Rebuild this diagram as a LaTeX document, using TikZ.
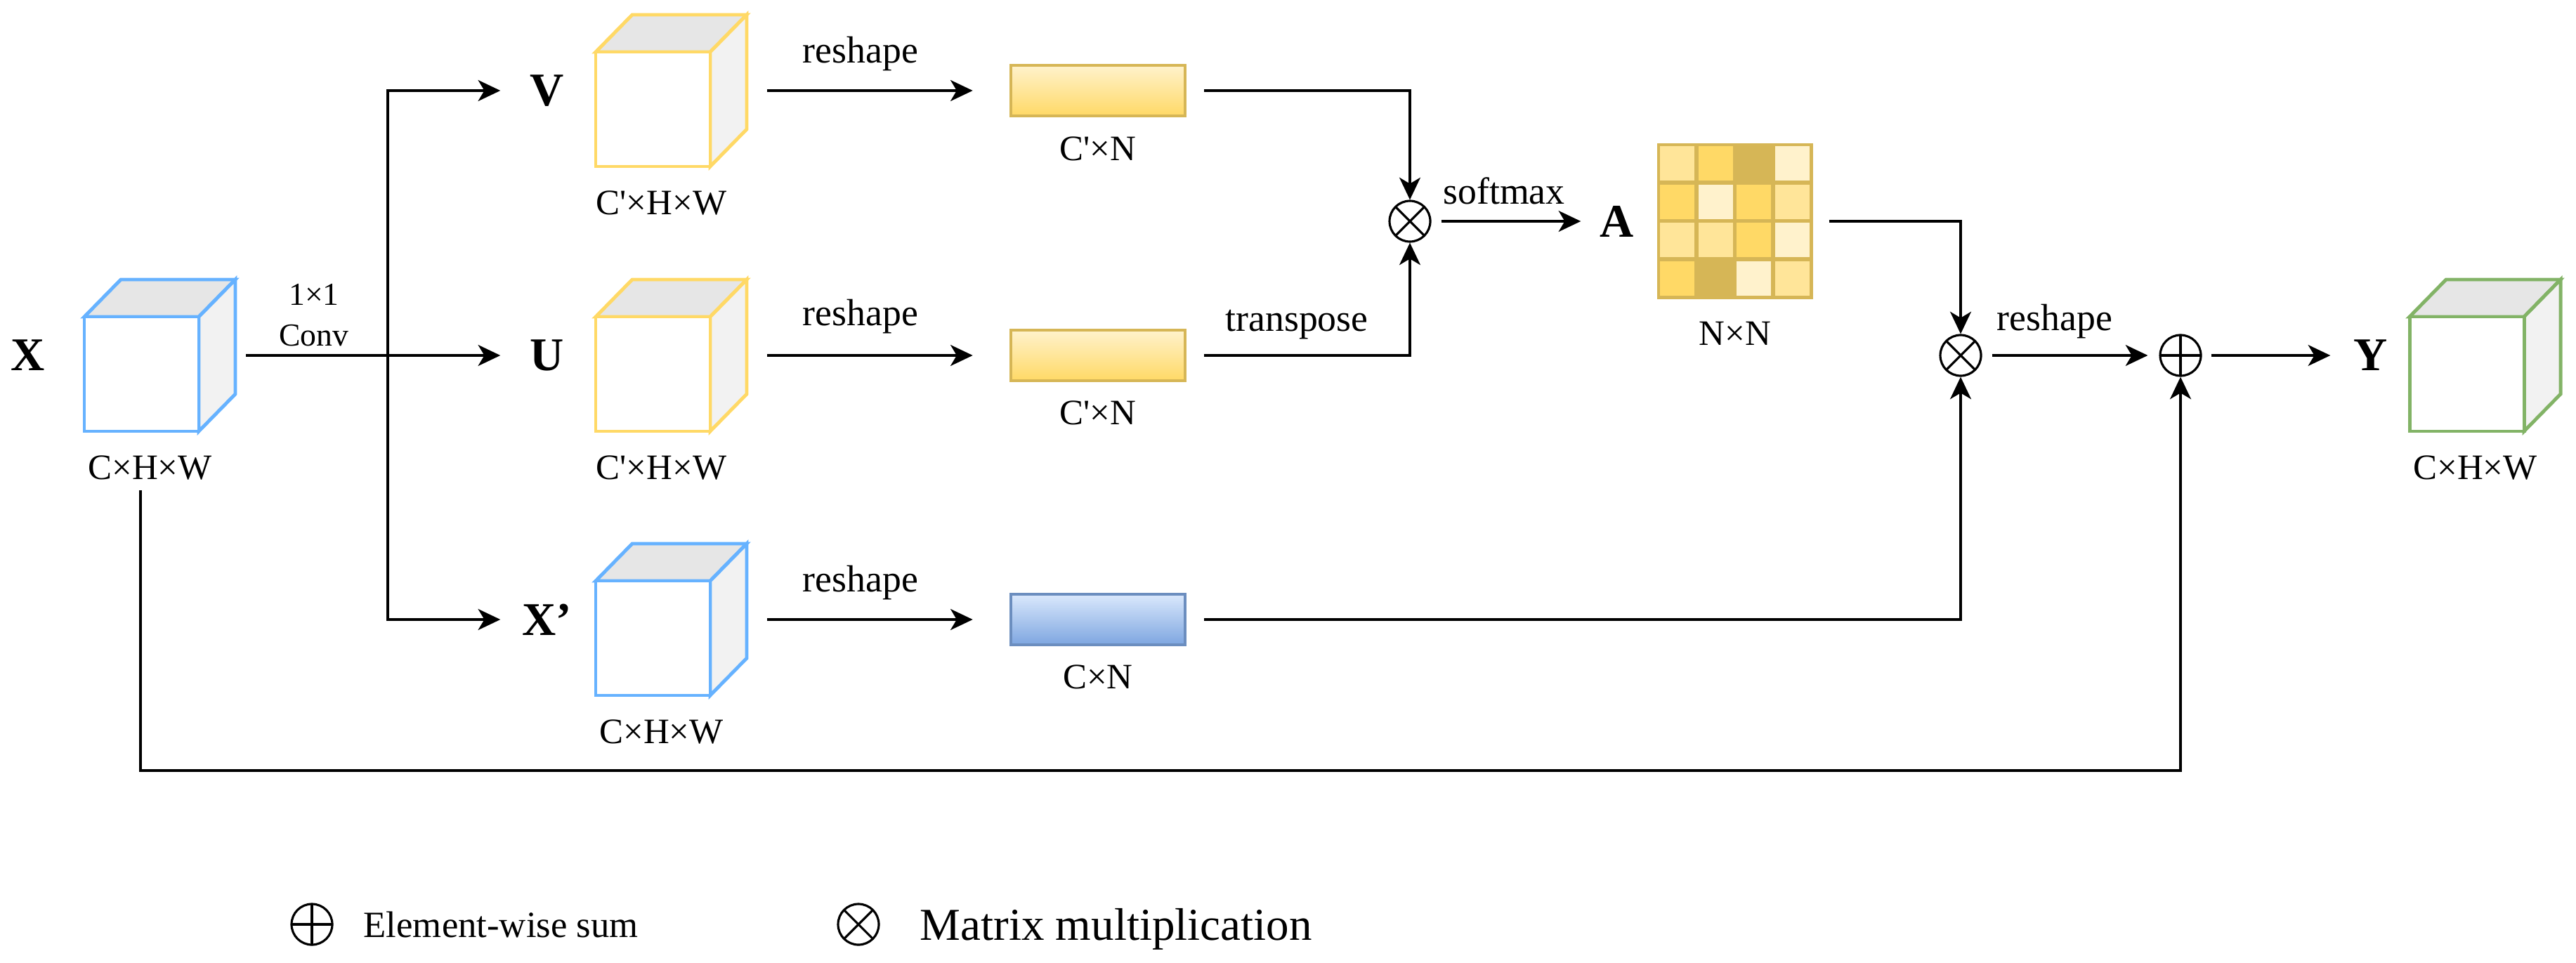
\documentclass[tikz,border=0pt]{standalone}
\usepackage{fontspec}
\newfontfamily\tnr{Liberation Serif}
\usetikzlibrary{arrows.meta,positioning}

\definecolor{cubeblue}{HTML}{66B2FF}
\definecolor{cubeyellow}{HTML}{FFD966}
\definecolor{cubegreen}{HTML}{82B366}
\definecolor{cubetop}{HTML}{E6E6E6}
\definecolor{cubeside}{HTML}{F2F2F2}
\definecolor{barline}{HTML}{D6B656}
\definecolor{barlight}{HTML}{FFF2CC}
\definecolor{bardark}{HTML}{FFD966}
\definecolor{xbarline}{HTML}{6C8EBF}
\definecolor{xbarlight}{HTML}{DAE8FC}
\definecolor{xbardark}{HTML}{7EA6E0}
\definecolor{matVL}{HTML}{FFF2CC}
\definecolor{matL}{HTML}{FFE599}
\definecolor{matM}{HTML}{FFD966}
\definecolor{matD}{HTML}{D6B656}

\newcommand{\featcube}[5]{%
  \begin{scope}[shift={(#2,#3)}]
    % box round the whole cube, used by the connectors
    \node[cubebox] (#1) at (0,0) {};
    % top face
    \filldraw[cubeedge, draw=#4, fill=cubetop] (-1.075,0.55) -- (-0.555,1.08) -- (1.075,1.08) -- (0.555,0.55) -- cycle;
    % side face
    \filldraw[cubeedge, draw=#4, fill=cubeside] (0.555,0.55) -- (1.075,1.08) -- (1.075,-0.55) -- (0.555,-1.08) -- cycle;
    % front face
    \filldraw[cubeedge, draw=#4, fill=white] (-1.075,-1.08) rectangle (0.555,0.55);
    % size
    \node[dimlbl] (#1-dim) at (-0.14,-1.60) {#5};
  \end{scope}
}

\begin{document}
\begin{tikzpicture}[
    font=\tnr,
    flow/.style={line width=1.1pt, -{Stealth[length=9pt, width=8.5pt, inset=2.5pt]}},
    cubebox/.style={minimum width=2.15cm, minimum height=2.16cm, inner sep=0, outer sep=0},
    cubeedge/.style={line width=1.4pt},
    vecbar/.style={minimum width=2.48cm, minimum height=0.72cm, inner sep=0, line width=1.3pt},
    yelbar/.style={vecbar, draw=barline, top color=barlight, bottom color=bardark},
    blubar/.style={vecbar, draw=xbarline, top color=xbarlight, bottom color=xbardark},
    amat/.style={minimum size=2.22cm, inner sep=0, fill=matD},
    varlbl/.style={font=\tnr\bfseries\fontsize{19}{22}\selectfont, minimum width=0.9cm, inner sep=0},
    dimlbl/.style={font=\tnr\fontsize{14.5}{17}\selectfont, inner sep=0},
    oplbl/.style={font=\tnr\fontsize{15.3}{18}\selectfont, inner sep=0},
    convlbl/.style={font=\tnr\fontsize{13}{16.5}\selectfont, inner sep=0, align=center},
    mulop/.style={circle, draw, line width=0.9pt, minimum size=0.58cm, inner sep=0,
        path picture={\draw[line width=0.9pt]
            (path picture bounding box.north west) -- (path picture bounding box.south east)
            (path picture bounding box.north east) -- (path picture bounding box.south west);}},
    sumop/.style={circle, draw, line width=0.9pt, minimum size=0.58cm, inner sep=0,
        path picture={\draw[line width=0.9pt]
            (path picture bounding box.north) -- (path picture bounding box.south)
            (path picture bounding box.west) -- (path picture bounding box.east);}},
]
\useasboundingbox (0,0) rectangle (36.67,13.70);

% ---------- input X ----------
\node[varlbl] (X) at (0.40,8.64) {X};
\featcube{xin}{2.275}{8.64}{cubeblue}{C×H×W}

% ---------- 1x1 conv, split into V, U, X' ----------
\node[convlbl] (conv) at (4.47,9.21) {1×1\\Conv};
\coordinate (split) at (5.52,8.64);
\node[varlbl] (V) at (7.79,12.41) {V};
\node[varlbl] (U) at (7.79,8.64) {U};
\node[varlbl] (Xp) at (7.79,4.88) {X’};
\draw[flow, shorten <=0.15cm, shorten >=0.21cm] (xin) -- (U);
\draw[flow, shorten >=0.21cm] (split) |- (V);
\draw[flow, shorten >=0.21cm] (split) |- (Xp);

\featcube{vcube}{9.555}{12.41}{cubeyellow}{C'×H×W}
\featcube{ucube}{9.555}{8.64}{cubeyellow}{C'×H×W}
\featcube{xpcube}{9.555}{4.88}{cubeblue}{C×H×W}

% ---------- reshape to matrices ----------
\node[yelbar] (vbar) at (15.63,12.41) {};
\node[dimlbl] (vbar-dim) at (15.63,11.58) {C'×N};
\node[yelbar] (ubar) at (15.63,8.64) {};
\node[dimlbl] (ubar-dim) at (15.63,7.82) {C'×N};
\node[blubar] (xbar) at (15.63,4.88) {};
\node[dimlbl] (xbar-dim) at (15.63,4.06) {C×N};

\draw[flow, shorten <=0.29cm, shorten >=0.52cm] (vcube) -- (vbar);
\draw[flow, shorten <=0.29cm, shorten >=0.52cm] (ucube) -- (ubar);
\draw[flow, shorten <=0.29cm, shorten >=0.52cm] (xpcube) -- (xbar);
\node[oplbl] (rs-v) at (12.25,12.93) {reshape};
\node[oplbl] (rs-u) at (12.25,9.19) {reshape};
\node[oplbl] (rs-x) at (12.25,5.40) {reshape};

% ---------- attention map A ----------
\node[mulop] (mul1) at (20.07,10.55) {};
\draw[flow, shorten <=0.25cm] (vbar) -| (mul1);
\draw[flow, shorten <=0.25cm] (ubar) -| (mul1);
\node[oplbl] (tp) at (18.46,9.08) {transpose};

\node[varlbl] (A) at (23.02,10.55) {A};
\draw[flow, shorten <=0.14cm, shorten >=0.06cm] (mul1) -- (A);
\node[oplbl] (sm) at (21.41,10.98) {softmax};

\node[amat] (amat) at (24.70,10.55) {};
\foreach \cellc [count=\k from 0] in {matL,matM,matD,matVL, matM,matVL,matM,matL,
                                      matL,matL,matM,matVL, matM,matD,matVL,matL} {
  \pgfmathtruncatemacro{\row}{\k/4}
  \pgfmathtruncatemacro{\col}{\k-4*\row}
  \fill[\cellc] ([shift={(0.0475+\col*0.545,-0.0475-\row*0.545)}]amat.north west) rectangle ++(0.49,-0.49);
}
\node[dimlbl] (amat-dim) at (24.70,8.95) {N×N};

% ---------- output Y ----------
\node[mulop] (mul2) at (27.91,8.64) {};
\node[sumop] (plus) at (31.04,8.64) {};
\draw[flow, shorten <=0.22cm] (amat) -| (mul2);
\draw[flow, shorten <=0.25cm] (xbar) -| (mul2);
\draw[flow, shorten <=0.14cm, shorten >=0.16cm] (mul2) -- (plus);
\node[oplbl] (rs-out) at (29.25,9.12) {reshape};

\node[varlbl] (Y) at (33.75,8.64) {Y};
\draw[flow, shorten <=0.13cm, shorten >=0.12cm] (plus) -- (Y);
\featcube{yout}{35.375}{8.64}{cubegreen}{C×H×W}

% skip connection X -> sum
\coordinate (skiptop) at (2.00,6.72);
\coordinate (skipbot) at (2.00,2.73);
\draw[flow] (skiptop) -- (skipbot) -| (plus);

% ---------- legend ----------
\node[sumop] (leg-sum) at (4.44,0.54) {};
\node[font=\tnr\fontsize{15}{18}\selectfont, anchor=west, inner sep=0] (leg-sum-txt) at (5.17,0.54) {Element-wise sum};
\node[mulop] (leg-mul) at (12.22,0.54) {};
\node[font=\tnr\fontsize{18.5}{22}\selectfont, anchor=west, inner sep=0] (leg-mul-txt) at (13.09,0.475) {Matrix multiplication};

\end{tikzpicture}
\end{document}
